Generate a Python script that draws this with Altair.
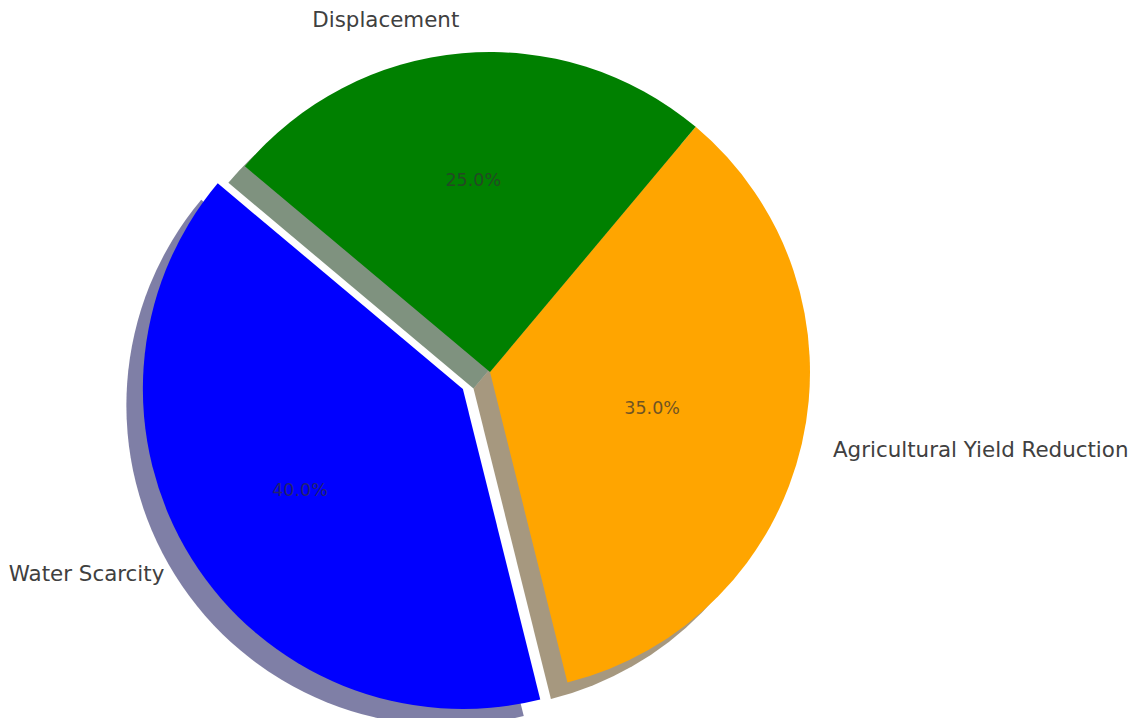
import math
import altair as alt
import pandas as pd

# ---- data ----
categories = ["Water Scarcity", "Agricultural Yield Reduction", "Displacement"]
values = [40, 35, 25]
colors = ["blue", "orange", "green"]
shadow_colors = ["#00004d", "#4d3200", "#002600"]   # 0.3 * slice colour
explode = [0.1, 0.0, 0.0]

# ---- style / layout ----
START_DEG = 140          # matplotlib-style start angle (counter-clockwise from 3 o'clock)
R = 320                  # pie radius in px
SHADOW = 16.5            # shadow shift in px
FONT = "DejaVu Sans"
PCT_DIST = [0.6, 0.52, 0.6]   # radial position of the percentage texts (fraction of R)
LABEL_DIST = 1.1

df = pd.DataFrame({
    "category": categories,
    "value": values,
    "idx": list(range(len(values))),
    "color": colors,
    "shadow": shadow_colors,
})

start_rad = math.radians(90 - START_DEG)
theta_scale = alt.Scale(domain=[0, 1], range=[start_rad, start_rad - 2 * math.pi])

base = (
    alt.Chart(df)
    .transform_joinaggregate(total="sum(value)")
    .transform_window(cum="sum(value)", sort=[alt.SortField("idx")], frame=[None, 0])
    .transform_calculate(
        f_end="datum.cum / datum.total",
        f_start="(datum.cum - datum.value) / datum.total",
        f_mid="(datum.cum - datum.value / 2) / datum.total",
        pct="format(datum.value / datum.total * 100, '.1f') + '%'",
    )
)

total = sum(values)
cum = 0
shadow_layers, wedge_layers, text_layers = [], [], []
for i, cat in enumerate(categories):
    mid = math.radians(START_DEG + 360 * (cum + values[i] / 2) / total)
    cum += values[i]
    dx = explode[i] * R * math.cos(mid)
    dy = -explode[i] * R * math.sin(mid)
    sl = base.transform_filter(alt.datum.idx == i)

    arc_enc = dict(
        theta=alt.Theta("f_start:Q", scale=theta_scale),
        theta2=alt.Theta2("f_end:Q"),
    )
    shadow_layers.append(
        sl.mark_arc(radius=R, opacity=0.5, xOffset=dx - SHADOW, yOffset=dy + SHADOW)
        .encode(color=alt.Color("shadow:N", scale=None), **arc_enc)
    )
    wedge_layers.append(
        sl.mark_arc(radius=R, xOffset=dx, yOffset=dy)
        .encode(color=alt.Color("color:N", scale=None), **arc_enc)
    )
    text_layers.append(
        sl.mark_text(radius=PCT_DIST[i] * R, xOffset=dx, yOffset=dy, font=FONT, fontSize=17.5,
                     color="#333333", opacity=0.7, align="center", baseline="middle")
        .encode(theta=alt.Theta("f_mid:Q", scale=theta_scale, stack=False), text="pct:N")
    )
    align = "left" if math.cos(mid) > 0 else "right"
    text_layers.append(
        sl.mark_text(radius=LABEL_DIST * R, xOffset=dx, yOffset=dy, font=FONT, fontSize=21.4,
                     color="#404040", align=align, baseline="middle")
        .encode(theta=alt.Theta("f_mid:Q", scale=theta_scale, stack=False), text="category:N")
    )

chart = alt.layer(*shadow_layers, *wedge_layers, *text_layers).properties(
    width=964,
    height=692,
    padding={"left": 0, "top": 18, "right": 156, "bottom": 0},
    autosize=alt.AutoSizeParams(type="none"),
).configure_view(stroke=None)

chart.save("out.html", embed_options={"renderer": "svg", "actions": False})
